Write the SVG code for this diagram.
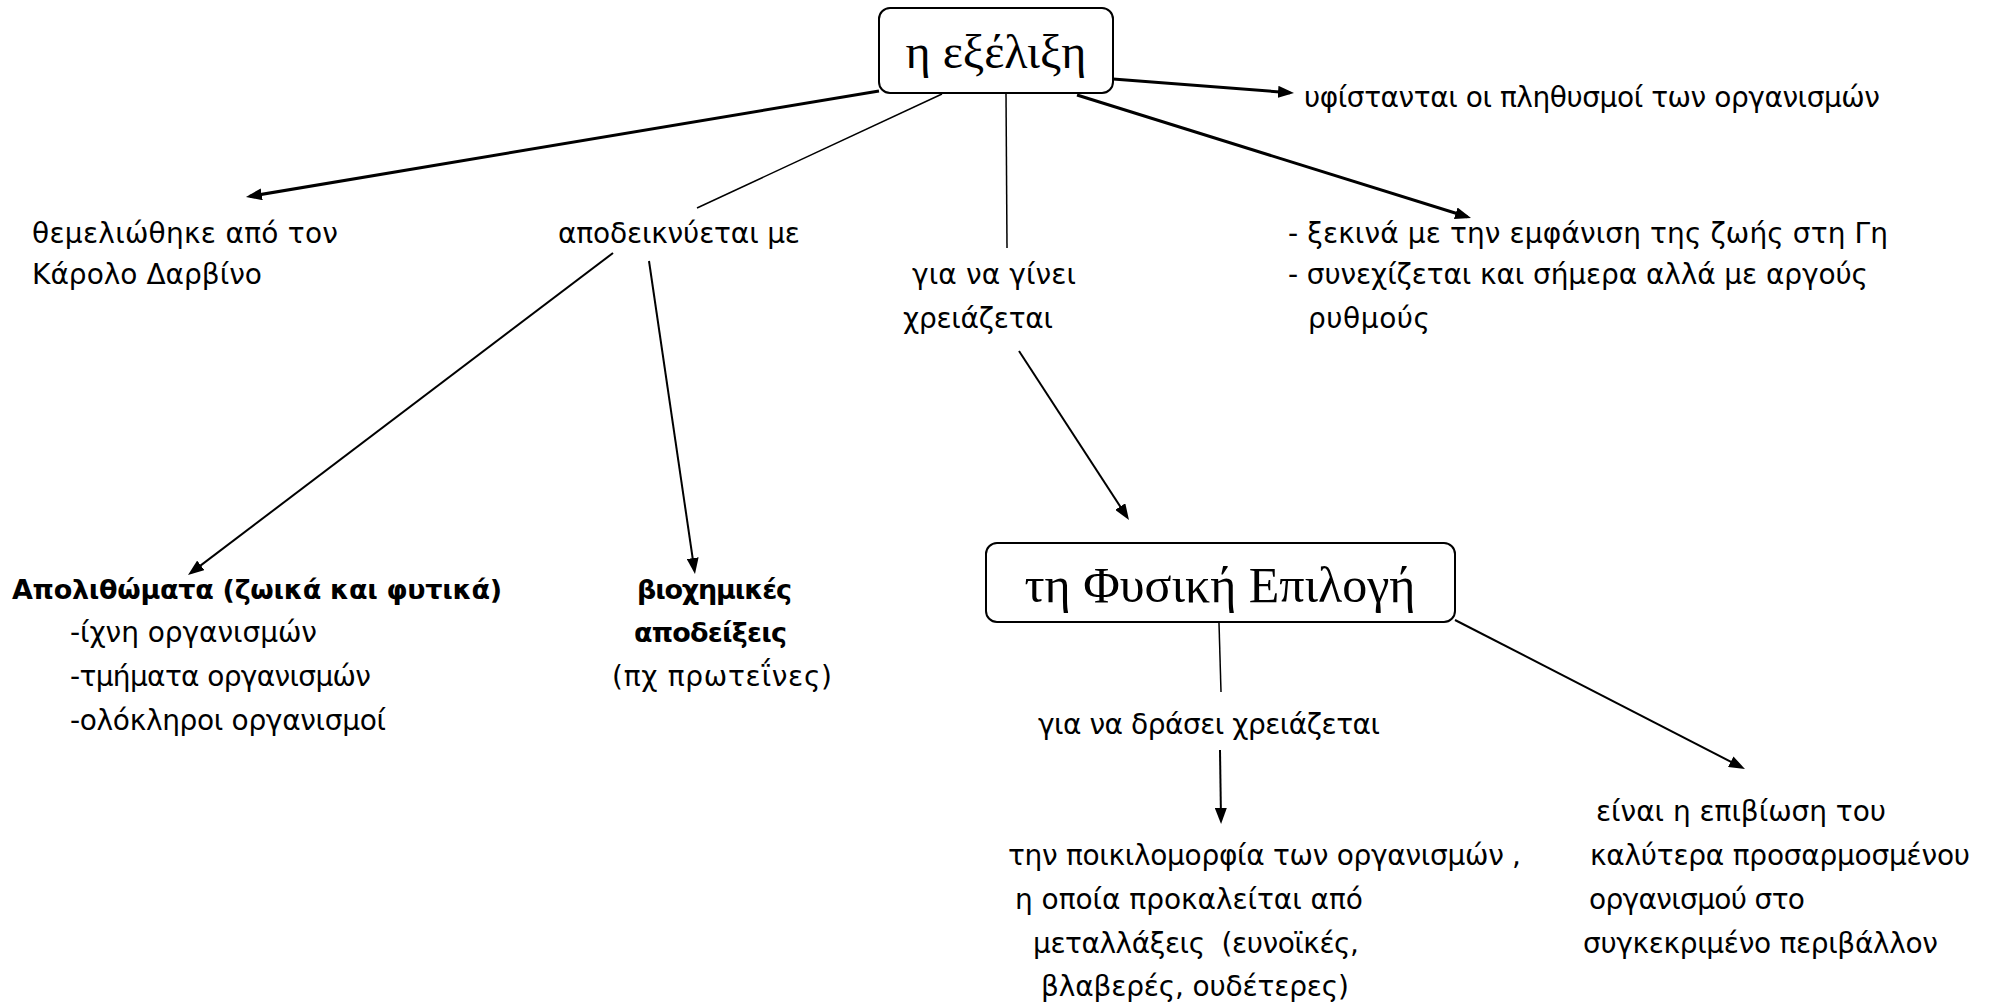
<svg xmlns="http://www.w3.org/2000/svg" width="1989" height="1008" viewBox="0 0 1989 1008">
  <style>
    .box { fill: #ffffff; stroke: #000000; stroke-width: 2; }
    .title { font-family: "Liberation Serif", "DejaVu Serif", serif; font-size: 48px; fill: #000000; text-anchor: middle; }
    .title-lg { font-size: 50px; }
    .t { font-family: "DejaVu Sans", "Noto Sans", sans-serif; font-size: 28px; fill: #000000; white-space: pre; }
    .b { font-weight: bold; font-size: 27px; }
    .heavy { stroke: #000000; stroke-width: 3; fill: none; }
    .mid { stroke: #000000; stroke-width: 2; fill: none; }
    .thin { stroke: #000000; stroke-width: 1.5; fill: none; }
  </style>
  <defs>
    <marker id="arrow" markerUnits="userSpaceOnUse" markerWidth="16" markerHeight="12" refX="12" refY="6" orient="auto">
      <path d="M0,0 L16,6 L0,12 Z" fill="#000000"/>
    </marker>
  </defs>
  <rect width="1989" height="1008" fill="#ffffff"/>

  <!-- connectors -->
  <g id="connectors">
    <line class="heavy" x1="1113" y1="79" x2="1290" y2="92.7" marker-end="url(#arrow)"/>
    <line class="heavy" x1="879" y1="91" x2="249.9" y2="196.3" marker-end="url(#arrow)"/>
    <line class="thin" x1="942" y1="94" x2="697" y2="208"/>
    <line class="thin" x1="1006" y1="93" x2="1007" y2="248"/>
    <line class="heavy" x1="1077" y1="95" x2="1467.2" y2="216.8" marker-end="url(#arrow)"/>
    <line class="mid" x1="613" y1="253" x2="191.2" y2="572.6" marker-end="url(#arrow)"/>
    <line class="mid" x1="649" y1="261" x2="694.4" y2="570" marker-end="url(#arrow)"/>
    <line class="mid" x1="1019" y1="351" x2="1126.8" y2="516.6" marker-end="url(#arrow)"/>
    <line class="thin" x1="1219" y1="623" x2="1221" y2="692"/>
    <line class="mid" x1="1220" y1="750" x2="1221" y2="820" marker-end="url(#arrow)"/>
    <line class="mid" x1="1455" y1="620" x2="1741.4" y2="767.2" marker-end="url(#arrow)"/>
  </g>

  <!-- main concept -->
  <g id="node-exelixi">
    <rect class="box" x="879" y="8" width="234" height="85" rx="11"/>
    <text class="title" x="996" y="68">η εξέλιξη</text>
  </g>

  <g id="node-yfistantai">
    <text class="t" x="1304" y="107" textLength="576">υφίστανται οι πληθυσμοί των οργανισμών</text>
  </g>

  <g id="node-themeliothike">
    <text class="t" x="32" y="243" textLength="306">θεμελιώθηκε από τον</text>
    <text class="t" x="32" y="284" textLength="230">Κάρολο Δαρβίνο</text>
  </g>

  <g id="node-apodeiknyetai">
    <text class="t" x="558" y="243" textLength="242">αποδεικνύεται με</text>
  </g>

  <g id="node-gia-na-ginei">
    <text class="t" x="912" y="284" textLength="164">για να γίνει</text>
    <text class="t" x="903" y="328" textLength="150">χρειάζεται</text>
  </g>

  <g id="node-xekina">
    <text class="t" x="1288" y="243" textLength="600">- ξεκινά με την εμφάνιση της ζωής στη Γη</text>
    <text class="t" x="1288" y="284" textLength="580">- συνεχίζεται και σήμερα αλλά με αργούς</text>
    <text class="t" x="1308" y="328" textLength="122">ρυθμούς</text>
  </g>

  <g id="node-apolithomata">
    <text class="t b" x="12" y="599" textLength="490">Απολιθώματα (ζωικά και φυτικά)</text>
    <text class="t" x="70" y="642" textLength="247">-ίχνη οργανισμών</text>
    <text class="t" x="70" y="686" textLength="301">-τμήματα οργανισμών</text>
    <text class="t" x="70" y="730" textLength="316">-ολόκληροι οργανισμοί</text>
  </g>

  <g id="node-viochimikes">
    <text class="t b" x="637" y="599" textLength="155">βιοχημικές</text>
    <text class="t b" x="634" y="642" textLength="153">αποδείξεις</text>
    <text class="t" x="612" y="686" textLength="220">(πχ πρωτεΐνες)</text>
  </g>

  <!-- natural selection -->
  <g id="node-fysiki-epilogi">
    <rect class="box" x="986" y="543" width="469" height="79" rx="11"/>
    <text class="title title-lg" x="1220" y="602">τη Φυσική Επιλογή</text>
  </g>

  <g id="node-gia-na-drasei">
    <text class="t" x="1038" y="734" textLength="342">για να δράσει χρειάζεται</text>
  </g>

  <g id="node-poikilomorfia">
    <text class="t" x="1008" y="865" textLength="513">την ποικιλομορφία των οργανισμών ,</text>
    <text class="t" x="1015" y="909" textLength="348">η οποία προκαλείται από</text>
    <text class="t" x="1033" y="953" textLength="326">μεταλλάξεις  (ευνοϊκές,</text>
    <text class="t" x="1041" y="996" textLength="308">βλαβερές, ουδέτερες)</text>
  </g>

  <g id="node-epiviosi">
    <text class="t" x="1596" y="821" textLength="290">είναι η επιβίωση του</text>
    <text class="t" x="1590" y="865" textLength="380">καλύτερα προσαρμοσμένου</text>
    <text class="t" x="1589" y="909" textLength="216">οργανισμού στο</text>
    <text class="t" x="1583" y="953" textLength="355">συγκεκριμένο περιβάλλον</text>
  </g>
</svg>
